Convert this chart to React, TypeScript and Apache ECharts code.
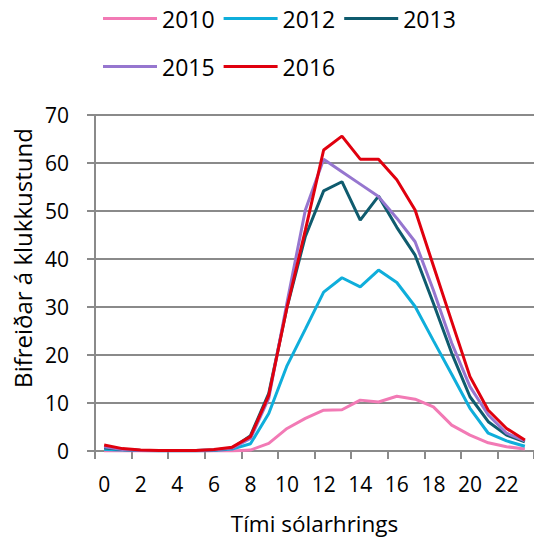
import React, { useEffect, useRef } from "react";
import * as echarts from "echarts";

const hours = Array.from({ length: 24 }, (_, i) => String(i));
const s2010 = [0, 0, 0, 0, 0, 0, 0, 0, 0.2, 1.6, 4.7, 6.8, 8.5, 8.6, 10.6, 10.2, 11.4, 10.8, 9.2, 5.4, 3.3, 1.7, 0.9, 0.4];
const s2012 = [0.3, 0.2, 0.1, 0, 0, 0, 0.1, 0.4, 1.5, 7.8, 17.8, 25.4, 33.1, 36.1, 34.2, 37.7, 35.1, 30.1, 23, 16, 8.9, 3.7, 2.1, 1.0];
const s2013 = [0.7, 0.3, 0.1, 0.1, 0.1, 0.1, 0.2, 0.6, 3.2, 12, 30, 44.7, 54.2, 56.1, 48.1, 53.1, 46.6, 40.8, 30.8, 20.4, 11.3, 6.1, 3.3, 1.9];
const s2015 = [0.9, 0.3, 0.1, 0.1, 0.1, 0.1, 0.2, 0.6, 2.6, 11, 31, 50.2, 60.8, 58.2, 55.6, 53.0, 48.5, 43.6, 33.5, 22.5, 13.4, 7.5, 3.7, 2.1];
const s2016 = [1.25, 0.5, 0.2, 0.1, 0.1, 0.1, 0.3, 0.8, 3.0, 11.6, 30, 46, 62.7, 65.6, 60.8, 60.8, 56.5, 50.2, 38.6, 27, 15.5, 8.5, 4.7, 2.3];

const seriesNames = ["2010", "2012", "2013", "2015", "2016"];
const seriesData = [s2010, s2012, s2013, s2015, s2016];
const colors = ["#F27AB5", "#0FAEDB", "#0F5B6E", "#9676CF", "#E0000E"];
const yTitle = "Bifreiðar á klukkustund";
const xTitle = "Tími sólarhrings";

const FONT = "Open Sans";

export default function App() {
  const ref = useRef<HTMLDivElement>(null);
  useEffect(() => {
    if (!ref.current) return;
    const chart = echarts.init(ref.current, null, { renderer: "svg" });
    const legendCommon = {
      left: 98,
      icon: "rect",
      itemWidth: 54,
      itemHeight: 3,
      itemGap: 9,
      textStyle: { fontFamily: FONT, fontSize: 23, color: "#000" },
      selectedMode: false,
    };
    chart.setOption({
      animation: false,
      color: colors,
      legend: [
        { ...legendCommon, top: 2, data: ["2010", "2012", "2013"] },
        { ...legendCommon, top: 50, data: ["2015", "2016"] },
      ],
      graphic: [
        {
          type: "text",
          x: 22,
          y: 258,
          rotation: Math.PI / 2,
          style: {
            text: yTitle,
            fontFamily: FONT,
            fontSize: 24,
            fill: "#000",
            align: "center",
            verticalAlign: "middle",
          },
        },
      ],
      grid: { left: 95, top: 115, width: 440, height: 336, containLabel: false },
      xAxis: {
        type: "category",
        data: hours,
        boundaryGap: true,
        name: xTitle,
        nameLocation: "middle",
        nameGap: 61,
        nameTextStyle: { fontFamily: FONT, fontSize: 22.5, color: "#000" },
        axisLine: { lineStyle: { color: "#8a8a8a", width: 2 } },
        axisTick: { show: true, length: 8, lineStyle: { color: "#8a8a8a", width: 2 } },
        axisLabel: { interval: 1, margin: 22, fontFamily: FONT, fontSize: 21, color: "#000" },
      },
      yAxis: {
        type: "value",
        min: 0,
        max: 70,
        interval: 10,
        axisLine: { show: true, lineStyle: { color: "#8a8a8a", width: 2 } },
        axisTick: { show: true, length: 8, lineStyle: { color: "#8a8a8a", width: 2 } },
        axisLabel: { margin: 26, fontFamily: FONT, fontSize: 21, color: "#000" },
        splitLine: { lineStyle: { color: "#8a8a8a", width: 2 } },
      },
      series: seriesNames.map((n, i) => ({
        name: n,
        type: "line",
        data: seriesData[i],
        symbol: "none",
        lineStyle: { width: 3, color: colors[i] },
        itemStyle: { color: colors[i] },
      })),
    });
    return () => chart.dispose();
  }, []);
  return (
    <div
      ref={ref}
      style={{ position: "fixed", left: 0, top: 0, width: 534, height: 545, background: "#fff" }}
    />
  );
}
